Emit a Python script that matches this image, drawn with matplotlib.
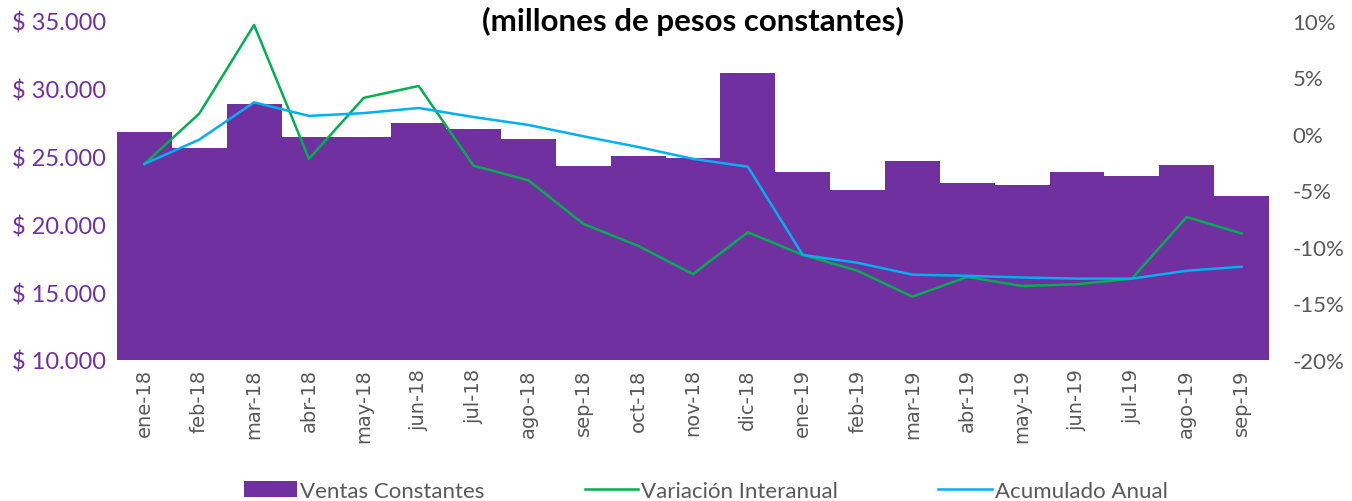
import numpy as np
import matplotlib.pyplot as plt
from matplotlib.ticker import FuncFormatter

meses = ["ene-18", "feb-18", "mar-18", "abr-18", "may-18", "jun-18", "jul-18",
         "ago-18", "sep-18", "oct-18", "nov-18", "dic-18", "ene-19", "feb-19",
         "mar-19", "abr-19", "may-19", "jun-19", "jul-19", "ago-19", "sep-19"]

# millones de pesos constantes
ventas = [26800, 25630, 28880, 26440, 26440, 27480, 27030, 26300, 24310, 25040,
          24900, 31160, 23870, 22540, 24680, 23060, 22900, 23860, 23570, 24380,
          22100]

# porcentajes
var_interanual = [-2.65, 1.8, 9.65, -2.2, 3.2, 4.25, -2.8, -4.1, -7.95, -9.9,
                  -12.4, -8.7, -10.7, -12.1, -14.4, -12.65, -13.45, -13.3,
                  -12.8, -7.35, -8.8]
acumulado = [-2.65, -0.5, 2.8, 1.6, 1.85, 2.3, 1.5, 0.8, -0.2, -1.15, -2.2,
             -2.9, -10.7, -11.4, -12.45, -12.55, -12.7, -12.8, -12.8, -12.1,
             -11.75]

PURPLE = "#7030A0"
GREEN = "#00B050"
BLUE = "#00B0F0"
GRAY = "#595959"
FONT = ["Lato", "DejaVu Sans"]

fig = plt.figure(figsize=(13.52, 5.02), dpi=100)
ax = fig.add_axes([0.0865, 0.2809, 0.8521, 0.6753])
x = np.arange(len(meses))

ax.bar(x, np.array(ventas) - 10000, bottom=10000, width=1.0, color=PURPLE,
       linewidth=0, label="Ventas Constantes")
ax.set_ylim(10000, 35000)
ax.set_xlim(-0.5, len(meses) - 0.5)
ax.set_yticks(np.arange(10000, 35001, 5000))
ax.yaxis.set_major_formatter(FuncFormatter(
    lambda v, p: "$ " + "{:,.0f}".format(v).replace(",", ".")))
ax.set_xticks(x)
ax.set_xticklabels(meses, rotation=90, fontsize=14, color=GRAY,
                   family="DejaVu Sans")
ax.tick_params(axis="y", length=0, labelsize=17, labelcolor=PURPLE, pad=8)
ax.tick_params(axis="x", length=0, pad=6)
for lab in ax.get_yticklabels():
    lab.set_family(FONT)

ax2 = ax.twinx()
ax2.plot(x, var_interanual, color=GREEN, lw=1.8, label="Variación Interanual")
ax2.plot(x, acumulado, color=BLUE, lw=1.8, label="Acumulado Anual")
ax2.set_ylim(-20, 10)
ax2.set_yticks(np.arange(-20, 11, 5))
ax2.yaxis.set_major_formatter(FuncFormatter(lambda v, p: "{:.0f}%".format(v)))
ax2.tick_params(axis="y", length=0, labelsize=16, labelcolor=GRAY, pad=17)
for lab in ax2.get_yticklabels():
    lab.set_family(FONT)

for a in (ax, ax2):
    for s in a.spines.values():
        s.set_visible(False)

fig.text(0.5125, 0.957, "(millones de pesos constantes)", ha="center",
         va="center", fontsize=22.5, fontweight="bold", family=FONT)

h1, l1 = ax.get_legend_handles_labels()
h2, l2 = ax2.get_legend_handles_labels()
fig.legend(h1 + h2, l1 + l2, loc="center", bbox_to_anchor=(0.522, 0.02),
           ncol=3, frameon=False, columnspacing=4.5,
           handlelength=2.4, handletextpad=0.15,
           prop={"family": FONT, "size": 16}, labelcolor=GRAY)

fig.savefig("out.png", dpi=100)
